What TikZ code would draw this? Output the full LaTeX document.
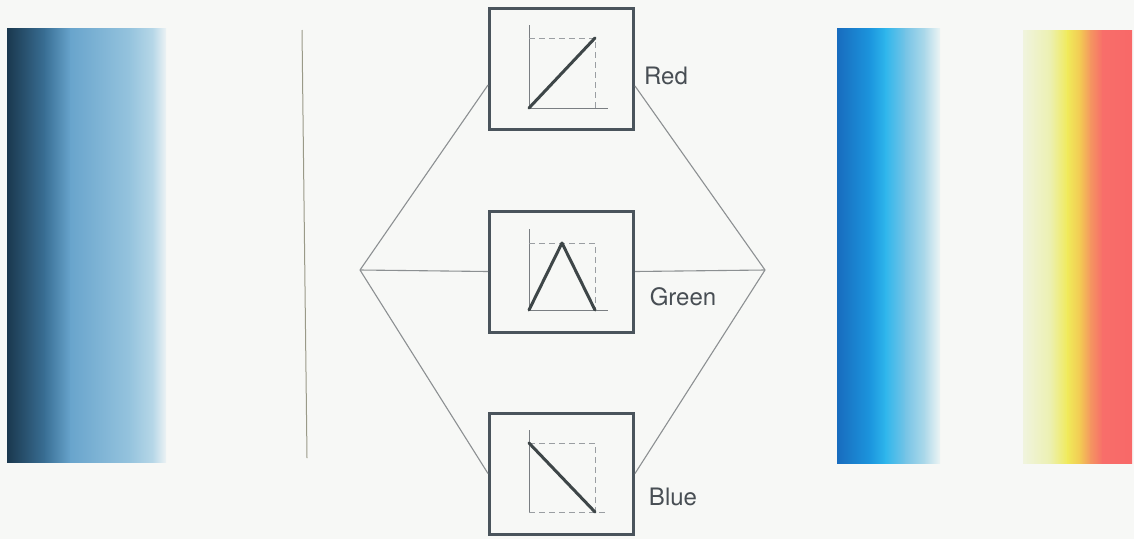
\documentclass[tikz,border=0pt]{standalone}
\usepackage{fontspec}
\setmainfont{TeX Gyre Heros}
\begin{document}
\begin{tikzpicture}[x=1pt,y=-1pt,
  filterbox/.style={draw=boxc,line width=3pt,minimum width=144pt,minimum height=121pt,inner sep=0pt,fill=bg},
  conn/.style={draw=connc,line width=1.1pt},
  axisline/.style={draw=axc,line width=1pt},
  dashline/.style={draw=dashc,line width=1pt,dash pattern=on 6pt off 4pt},
  curve/.style={draw=curvec,line width=3pt,line cap=round,line join=round},
  lbl/.style={text=lblc,font=\fontsize{24}{28}\selectfont,inner sep=0pt}]
\definecolor{bg}{HTML}{F7F8F6}
\definecolor{boxc}{HTML}{4A545C}
\definecolor{connc}{HTML}{8C9092}
\definecolor{axc}{HTML}{7A7E82}
\definecolor{dashc}{HTML}{9A9EA2}
\definecolor{curvec}{HTML}{3E4648}
\definecolor{lblc}{HTML}{484E54}
\definecolor{vline}{HTML}{9A9A88}
% background / bounding box
\fill[bg] (0,0) rectangle (1134,539);
\useasboundingbox (0,0) rectangle (1134,539);
% left blue gradient
\shade[left color={rgb,255:red,26;green,56;blue,78}, right color={rgb,255:red,58;green,112;blue,150}] (7,28) rectangle (46,462);
\shade[left color={rgb,255:red,58;green,112;blue,150}, right color={rgb,255:red,104;green,164;blue,204}] (45,28) rectangle (71,462);
\shade[left color={rgb,255:red,104;green,164;blue,204}, right color={rgb,255:red,150;green,196;blue,222}] (70,28) rectangle (131,462);
\shade[left color={rgb,255:red,150;green,196;blue,222}, right color={rgb,255:red,184;green,216;blue,232}] (130,28) rectangle (154,462);
\shade[left color={rgb,255:red,184;green,216;blue,232}, right color={rgb,255:red,236;green,242;blue,244}] (153,28) rectangle (166,462);
% vertical line
\draw[vline,line width=1pt] (302,30) -- (307,458);
% right blue gradient
\shade[left color={rgb,255:red,24;green,108;blue,190}, right color={rgb,255:red,28;green,150;blue,222}] (837,28) rectangle (871,463);
\shade[left color={rgb,255:red,28;green,150;blue,222}, right color={rgb,255:red,46;green,182;blue,236}] (870,28) rectangle (886,463);
\shade[left color={rgb,255:red,46;green,182;blue,236}, right color={rgb,255:red,118;green,196;blue,230}] (885,28) rectangle (906,463);
\shade[left color={rgb,255:red,118;green,196;blue,230}, right color={rgb,255:red,176;green,218;blue,234}] (905,28) rectangle (926,463);
\shade[left color={rgb,255:red,176;green,218;blue,234}, right color={rgb,255:red,236;green,244;blue,244}] (925,28) rectangle (940,463);
% warm gradient
\shade[left color={rgb,255:red,240;green,244;blue,222}, right color={rgb,255:red,236;green,240;blue,176}] (1023,30) rectangle (1051,463);
\shade[left color={rgb,255:red,236;green,240;blue,176}, right color={rgb,255:red,240;green,234;blue,90}] (1050,30) rectangle (1068,463);
\shade[left color={rgb,255:red,240;green,234;blue,90}, right color={rgb,255:red,242;green,200;blue,84}] (1067,30) rectangle (1081,463);
\shade[left color={rgb,255:red,242;green,200;blue,84}, right color={rgb,255:red,244;green,150;blue,96}] (1080,30) rectangle (1091,463);
\shade[left color={rgb,255:red,244;green,150;blue,96}, right color={rgb,255:red,248;green,110;blue,106}] (1090,30) rectangle (1103,463);
\shade[left color={rgb,255:red,248;green,110;blue,106}, right color={rgb,255:red,248;green,104;blue,104}] (1102,30) rectangle (1132,463);
% apex coordinates
\coordinate (L) at (360,270);
\coordinate (Rt) at (765,270);
% boxes
\node[filterbox] (R) at (561.5,69) {};
\node[filterbox] (G) at (561.5,271.5) {};
\node[filterbox] (B) at (561.5,473.5) {};
% connectors
\draw[conn] (L) -- ([yshift=-16pt]R.west);
\draw[conn] (L) -- (G.west);
\draw[conn] (L) -- (B.west);
\draw[conn] ([yshift=-17pt]R.east) -- (Rt);
\draw[conn] (G.east) -- (Rt);
\draw[conn] (B.east) -- (Rt);
% red plot
\draw[axisline] (529,25) -- (529,108) -- (608,108);
\draw[dashline] (529,38) -- (595,38) -- (595,108);
\draw[curve] (529,108) -- (595,38);
% green plot
\draw[axisline] (529,229) -- (529,310) -- (608,310);
\draw[dashline] (529,243) -- (595,243) -- (595,310);
\draw[curve] (529,310) -- (562,243) -- (595,310);
% blue plot
\draw[axisline] (529,430) -- (529,512);
\draw[dashline] (529,512) -- (608,512);
\draw[dashline] (529,443) -- (595,443) -- (595,512);
\draw[curve] (529,443) -- (595,512);
% labels
\node[lbl] (lr) at (666,76) {Red};
\node[lbl] (lg) at (683,297) {Green};
\node[lbl] (lb) at (673,497) {Blue};
\end{tikzpicture}
\end{document}
